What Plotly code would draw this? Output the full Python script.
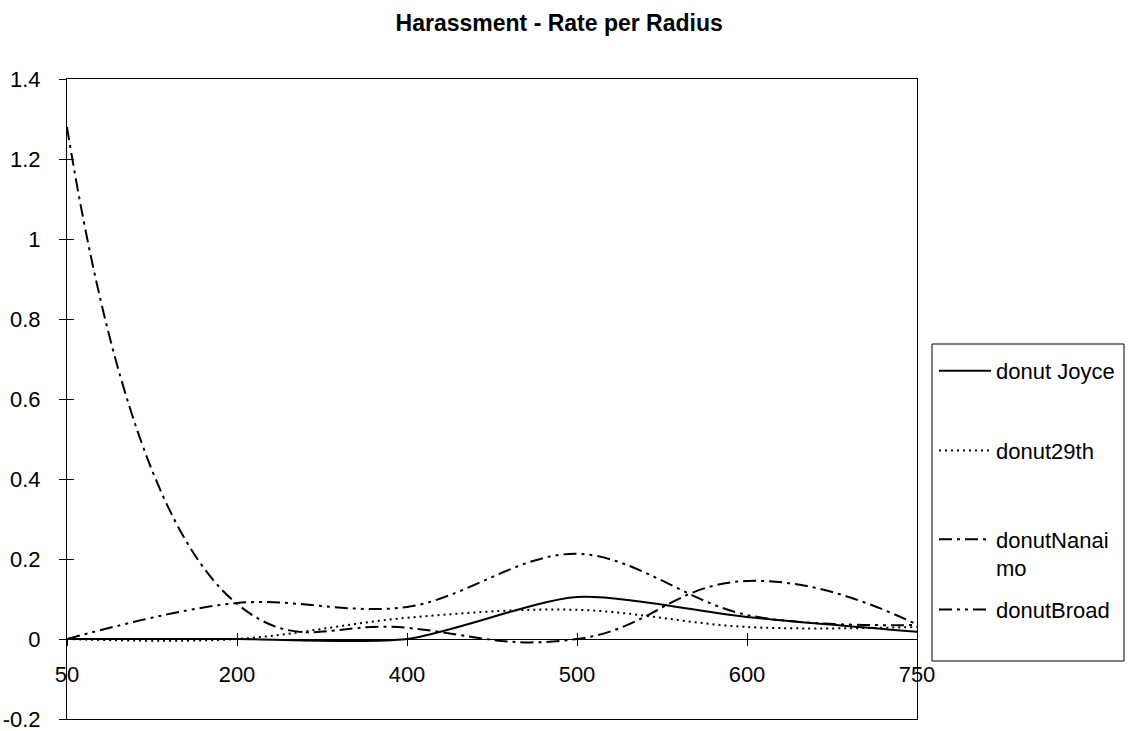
import plotly.graph_objects as go

# Radius categories (metres) and harassment rate per donut
radius = ["50", "200", "400", "500", "600", "750"]
donut_joyce = [0.0, 0.0, 0.0, 0.105, 0.055, 0.018]
donut_29th = [0.0, 0.0, 0.053, 0.073, 0.030, 0.030]
donut_nanaimo = [1.28, 0.088, 0.028, 0.0, 0.145, 0.036]
donut_broad = [0.0, 0.090, 0.080, 0.213, 0.060, 0.035]

series_names = ["donut Joyce", "donut29th", "donutNanai<br>mo", "donutBroad"]
series_values = [donut_joyce, donut_29th, donut_nanaimo, donut_broad]
series_dashes = ["solid", "2px,4px", "13px,5px,3px,5px", "13px,5px,3px,5px,3px,5px"]
series_smoothing = [0.7, 1.0, 1.3, 1.0]
# blank group headers used purely as vertical spacers between legend rows
legend_spacer_size = [0, 27, 34, 0]

y_tick_vals = [1.4, 1.2, 1.0, 0.8, 0.6, 0.4, 0.2, 0.0, -0.2]
y_tick_text = ["1.4", "1.2", "1", "0.8", "0.6", "0.4", "0.2", "0", "-0.2"]

FONT = "Liberation Sans, Arial, sans-serif"
W, H = 1132, 731
ML, MR, MT, MB = 67, 215, 79, 12
PW, PH = W - ML - MR, H - MT - MB
Y_RANGE = [-0.2, 1.4]
X_POS = list(range(len(radius)))
X_RANGE = [X_POS[0], X_POS[-1]]


def px_to_paper_x(px):
    return (px - ML) / PW


def px_to_paper_y(py):
    return (H - MB - py) / PH


fig = go.Figure()
for name, vals, dash, smooth, spacer in zip(series_names, series_values, series_dashes,
                                            series_smoothing, legend_spacer_size):
    group_title = (dict(text="&nbsp;", font=dict(size=spacer, family=FONT))
                   if spacer else None)
    fig.add_trace(go.Scatter(
        x=X_POS, y=vals, name=name, legendgroup=name, mode="lines",
        legendgrouptitle=group_title,
        line=dict(color="black", width=2, dash=dash, shape="spline", smoothing=smooth),
        hoverinfo="skip",
    ))

# empty traces so the overlaid tick axes get a subplot to live on
for xa, ya in [("x2", "y"), ("x3", "y"), ("x", "y2")]:
    fig.add_trace(go.Scatter(x=[None], y=[None], xaxis=xa, yaxis=ya, mode="lines",
                             showlegend=False, hoverinfo="skip"))

# fraction of the plot height where y = 0 sits, used to hang the category axis there
zero_pos = (0 - Y_RANGE[0]) / (Y_RANGE[1] - Y_RANGE[0])

# legend frame drawn as a rectangle so its size is independent of the entries
fig.add_shape(type="rect", xref="paper", yref="paper",
              x0=px_to_paper_x(932), x1=px_to_paper_x(1124),
              y0=px_to_paper_y(661), y1=px_to_paper_y(344),
              line=dict(color="black", width=1), fillcolor="rgba(0,0,0,0)", layer="above")

fig.update_layout(
    width=W, height=H,
    margin=dict(l=ML, r=MR, t=MT, b=MB, pad=0, autoexpand=False),
    paper_bgcolor="white", plot_bgcolor="white",
    font=dict(family=FONT, size=22, color="black"),
    title=dict(text="<b>Harassment - Rate per Radius</b>", x=0.494, xref="container",
               xanchor="center", y=1 - 23 / H, yref="container", yanchor="middle",
               font=dict(family=FONT, size=23, color="black")),
    showlegend=True,
    legend=dict(
        x=px_to_paper_x(934), xanchor="left",
        y=px_to_paper_y(350), yanchor="top",
        borderwidth=0, bgcolor="rgba(0,0,0,0)",
        font=dict(family=FONT, size=22, color="black"),
        itemwidth=52, tracegroupgap=10, valign="top",
    ),
    # plot-area frame
    xaxis=dict(range=X_RANGE, showline=True, mirror=True, linecolor="black", linewidth=1,
               showgrid=False, zeroline=False, showticklabels=False, ticks="",
               automargin=False),
    # category axis running along y = 0 with crossing tick marks
    xaxis2=dict(overlaying="x", anchor="free", position=zero_pos, range=X_RANGE,
                showline=True, linecolor="black", linewidth=1, showgrid=False, zeroline=False,
                tickmode="array", tickvals=X_POS, ticktext=radius, ticks="outside",
                ticklen=6, tickcolor="black", ticklabelstandoff=10, automargin=False,
                tickfont=dict(family=FONT, size=22, color="black")),
    xaxis3=dict(overlaying="x", anchor="free", position=zero_pos, range=X_RANGE,
                showline=False, showgrid=False, zeroline=False, showticklabels=False,
                tickmode="array", tickvals=X_POS, ticks="inside", ticklen=6, tickcolor="black",
                automargin=False),
    yaxis=dict(range=Y_RANGE, showline=True, mirror=True, linecolor="black", linewidth=1,
               showgrid=False, zeroline=False, tickmode="array", tickvals=y_tick_vals,
               ticktext=y_tick_text, ticks="outside", ticklen=7, tickcolor="black",
               ticklabelstandoff=14, ticklabeloverflow="allow", automargin=False,
               tickfont=dict(family=FONT, size=22, color="black")),
    yaxis2=dict(overlaying="y", anchor="x", side="left", range=Y_RANGE, showline=False,
                showgrid=False, zeroline=False, showticklabels=False, tickmode="array",
                tickvals=y_tick_vals, ticks="inside", ticklen=7, tickcolor="black",
                automargin=False),
)

fig.write_html("out.html")
